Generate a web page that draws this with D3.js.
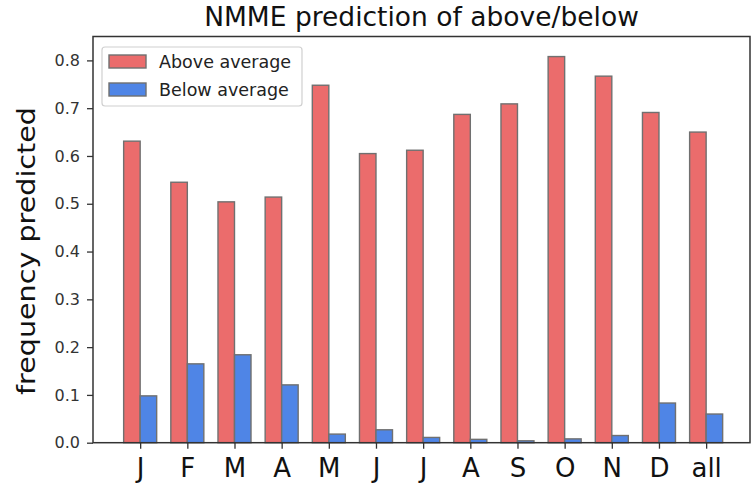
<!DOCTYPE html>
<html>
<head>
<meta charset="utf-8">
<script src="https://cdn.jsdelivr.net/npm/d3@7"></script>
<style>
  html, body { margin: 0; padding: 0; background: #fff; }
  svg { display: block; font-family: "DejaVu Sans", sans-serif; }
</style>
</head>
<body>
<svg id="chart" width="752" height="488"></svg>
<script>
const categories = ["J", "F", "M", "A", "M", "J", "J", "A", "S", "O", "N", "D", "all"];
const aboveValues = [0.631, 0.545, 0.504, 0.514, 0.748, 0.605, 0.612, 0.687, 0.709, 0.808, 0.767, 0.691, 0.650];
const belowValues = [0.098, 0.165, 0.184, 0.121, 0.018, 0.027, 0.011, 0.007, 0.004, 0.008, 0.015, 0.083, 0.060];
const yTicks = [0.0, 0.1, 0.2, 0.3, 0.4, 0.5, 0.6, 0.7, 0.8];
const seriesNames = ["Above average", "Below average"];
const seriesColors = ["#eb6c6c", "#4f85e6"];

(function () {
const svg = d3.select("#chart");
const mLeft = 93, mRight = 750, mTop = 36.5, mBottom = 442.7;
const barW = 0.35;

const x = d3.scaleLinear().domain([-1, 12.93]).range([mLeft, mRight]);
const y = d3.scaleLinear().domain([0, 0.85]).range([mBottom, mTop]);

const series = [aboveValues, belowValues];
series.forEach((vals, si) => {
  svg.append("g").selectAll("rect")
    .data(vals)
    .join("rect")
    .attr("x", (d, i) => si === 0 ? x(i - barW) : x(i))
    .attr("width", x(barW) - x(0))
    .attr("y", d => y(d))
    .attr("height", d => y(0) - y(d))
    .attr("fill", seriesColors[si])
    .attr("stroke", "#707070")
    .attr("stroke-width", 1.4);
});

// Y axis
const yAxis = d3.axisLeft(y).tickValues(yTicks).tickFormat(d3.format(".1f")).tickSize(6).tickPadding(7);
const gy = svg.append("g").attr("transform", `translate(${mLeft},0)`).call(yAxis);
gy.select(".domain").remove();
gy.selectAll(".tick line").attr("stroke", "#333").attr("stroke-width", 1.3);
gy.selectAll(".tick text").attr("font-size", 16).attr("fill", "#333")
  .attr("font-family", "DejaVu Sans, sans-serif");

// X axis
const xAxis = d3.axisBottom(x).tickValues(d3.range(categories.length))
  .tickFormat(i => categories[i]).tickSize(6).tickPadding(6);
const gx = svg.append("g").attr("transform", `translate(0,${mBottom})`).call(xAxis);
gx.select(".domain").remove();
gx.selectAll(".tick line").attr("stroke", "#333").attr("stroke-width", 1.3);
gx.selectAll(".tick text").attr("font-size", 26).attr("fill", "#111")
  .attr("font-family", "DejaVu Sans, sans-serif").attr("dy", null).attr("y", 34);

// Spines
svg.append("rect").attr("x", mLeft).attr("y", mTop)
  .attr("width", mRight - mLeft).attr("height", mBottom - mTop)
  .attr("fill", "none").attr("stroke", "#333").attr("stroke-width", 1.5);

// Title
svg.append("text").attr("x", (mLeft + mRight) / 2).attr("y", 26)
  .attr("text-anchor", "middle").attr("font-size", 26.5).attr("fill", "#111")
  .text("NMME prediction of above/below");

// Y label
svg.append("text")
  .attr("transform", `translate(35,251) rotate(-90)`)
  .attr("text-anchor", "middle").attr("font-size", 24).attr("fill", "#111")
  .attr("textLength", 288).attr("lengthAdjust", "spacingAndGlyphs")
  .text("frequency predicted");

// Legend
const lg = svg.append("g");
lg.append("rect").attr("x", 102).attr("y", 47).attr("width", 200).attr("height", 59)
  .attr("rx", 3).attr("fill", "#fff").attr("fill-opacity", 0.85)
  .attr("stroke", "#d0d0d0").attr("stroke-width", 1.2);
seriesNames.forEach((name, i) => {
  const yy = 55 + i * 28;
  lg.append("rect").attr("x", 109).attr("y", yy).attr("width", 37).attr("height", 13)
    .attr("fill", seriesColors[i]).attr("stroke", "#707070").attr("stroke-width", 1.4);
  lg.append("text").attr("x", 159).attr("y", yy + 12.5)
    .attr("font-size", 17.5).attr("fill", "#222").text(name);
});
})();
</script>
</body>
</html>
